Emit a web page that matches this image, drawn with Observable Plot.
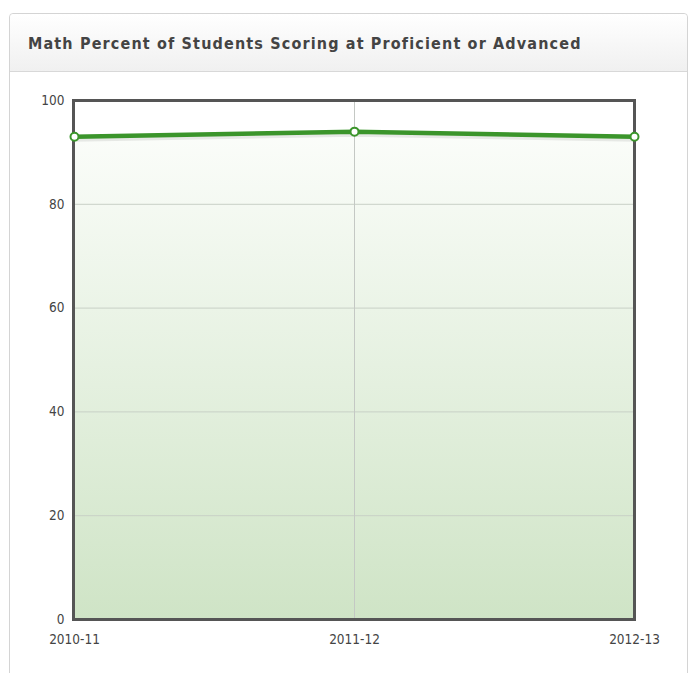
<!DOCTYPE html>
<html>
<head>
<meta charset="utf-8">
<script src="https://cdn.jsdelivr.net/npm/d3@7"></script>
<script src="https://cdn.jsdelivr.net/npm/@observablehq/plot@0.6"></script>
<style>
  html, body { margin: 0; padding: 0; background: #fff; width: 693px; height: 673px; overflow: hidden; }
  #panel { position: absolute; left: 9px; top: 13px; width: 679px; height: 680px; border: 1px solid #d4d4d4; border-radius: 4px; box-sizing: border-box; }
  #header { height: 58px; border-bottom: 1px solid #d8d8d8; background: linear-gradient(#ffffff, #f0f0f0); border-radius: 4px 4px 0 0; box-sizing: border-box; }
  #title { position: absolute; left: 18px; top: 20px; font: bold 16px "DejaVu Sans Condensed", "DejaVu Sans", sans-serif; color: #444; letter-spacing: 1.15px; white-space: nowrap; }
  #chart { position: absolute; left: 0; top: 72px; }
</style>
</head>
<body>
<div id="panel"><div id="header"></div><div id="title">Math Percent of Students Scoring at Proficient or Advanced</div></div>
<div id="chart"></div>
<script>
const years = ["2010-11", "2011-12", "2012-13"];
const percents = [93, 94, 93];
const yTicks = [0, 20, 40, 60, 80, 100];
const gridY = [20, 40, 60, 80];

const data = years.map((year, i) => ({year, value: percents[i]}));

const plot = Plot.plot({
  width: 693,
  height: 601,
  marginLeft: 73,
  marginRight: 59,
  marginTop: 28,
  marginBottom: 54,
  style: {fontFamily: "'DejaVu Sans Condensed', 'DejaVu Sans', sans-serif", fontSize: "13.5px", color: "#444", background: "transparent"},
  x: {type: "point", domain: years, padding: 0, label: null},
  y: {domain: [0, 100], ticks: yTicks, label: null},
  marks: [
    Plot.areaY(data, {x: "year", y: "value", fill: "url(#areaGrad)"}),
    Plot.ruleY(gridY, {stroke: "#c8d0c6", strokeWidth: 1}),
    Plot.ruleX([years[1]], {stroke: "#c4c8c4", strokeWidth: 1}),
    Plot.lineY(data, {x: "year", y: "value", stroke: "#000", strokeOpacity: 0.08, strokeWidth: 6, dy: 2}),
    Plot.lineY(data, {x: "year", y: "value", stroke: "#3b952b", strokeWidth: 4.5}),
    Plot.frame({stroke: "#555", strokeWidth: 3}),
    Plot.dot(data, {x: "year", y: "value", r: 4, fill: "#fff", stroke: "#3b952b", strokeWidth: 2}),
    Plot.axisY({ticks: yTicks, tickSize: 0, tickPadding: 9, fill: "#444"}),
    Plot.axisX({tickSize: 0, tickPadding: 15, fill: "#444"})
  ]
});

const svgNS = "http://www.w3.org/2000/svg";
const defs = document.createElementNS(svgNS, "defs");
defs.innerHTML = `<linearGradient id="areaGrad" x1="0" y1="0" x2="0" y2="1">
  <stop offset="0" stop-color="#fbfdfa"/>
  <stop offset="1" stop-color="#cfe4c6"/>
</linearGradient>`;
plot.insertBefore(defs, plot.firstChild);

document.getElementById("chart").appendChild(plot);
</script>
</body>
</html>
